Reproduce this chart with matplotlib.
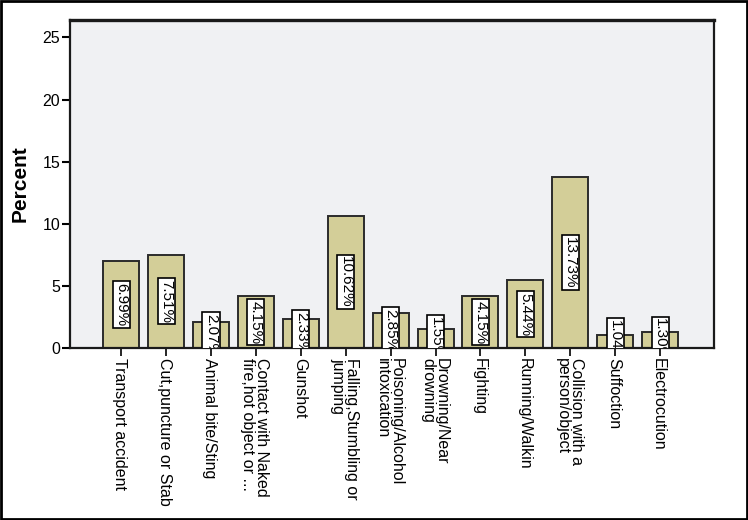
import matplotlib
matplotlib.use("Agg")
import matplotlib.pyplot as plt
from matplotlib.patches import Rectangle

categories = [
    "Transport accident",
    "Cut,puncture or Stab",
    "Animal bite/Sting",
    "Contact with Naked\nfire,hot object or ...",
    "Gunshot",
    "Falling,Stumbling or\njumping",
    "Poisoning/Alcohol\nintoxication",
    "Drowning/Near\ndrowning",
    "Fighting",
    "Running/Walkin",
    "Collision with a\nperson/object",
    "Suffoction",
    "Electrocution",
]
percent = [6.99, 7.51, 2.07, 4.15, 2.33, 10.62, 2.85, 1.55, 4.15, 5.44, 13.73, 1.04, 1.30]
yticks = [0, 5, 10, 15, 20, 25]

plt.rcParams['font.family'] = ['Liberation Sans', 'DejaVu Sans']

fig = plt.figure(figsize=(7.48, 5.2), dpi=100)
ax = fig.add_axes([0.0936, 0.3308, 0.9545 - 0.0936, 0.9615 - 0.3308])
ax.set_facecolor('#f0f1f3')

x = list(range(len(categories)))
bars = ax.bar(x, percent, width=0.8, color='#d3ce98', edgecolor='#2b2b2b', linewidth=1.4, zorder=2)

for xi, v in zip(x, percent):
    ax.text(xi, v / 2, f"{v:.2f}%", rotation=-90, ha='center', va='center',
            fontsize=11, color='black', zorder=3, clip_on=True,
            bbox=dict(boxstyle='square,pad=0.1', facecolor='white', edgecolor='black', linewidth=1.2))

ax.set_xlim(-1.14, 13.2)
ax.set_ylim(0, 26.4)
ax.set_yticks(yticks)
ax.set_yticklabels([str(t) for t in yticks], fontsize=11.5)
ax.set_xticks(x)
ax.set_xticklabels(categories, rotation=-90, rotation_mode='anchor', ha='left',
                   va='center_baseline', fontsize=11.5, linespacing=0.92)
ax.tick_params(axis='x', direction='out', length=6, width=1.2, pad=1)
ax.tick_params(axis='y', direction='out', length=6, width=1.5, pad=1)
for s in ax.spines.values():
    s.set_linewidth(1.6)
    s.set_color('#1a1a1a')
ax.spines['top'].set_linewidth(2.4)

ax.set_ylabel("Percent", fontsize=15, fontweight='bold', labelpad=9)

fig.patches.append(Rectangle((0.002, 0.002), 0.996, 0.996, transform=fig.transFigure,
                             fill=False, edgecolor='black', linewidth=2))

fig.savefig("out.png", dpi=100)
